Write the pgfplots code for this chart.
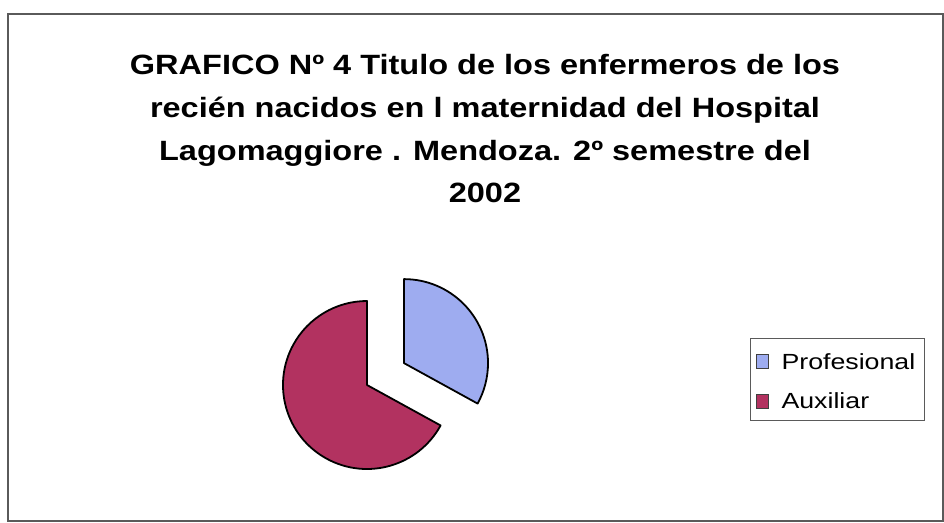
\documentclass[border=0pt]{standalone}
\usepackage{fontspec}
\setmainfont{Liberation Sans}
\newfontfamily\titlefont{Liberation Sans}[FakeStretch=1.165]
\newfontfamily\legfont{Liberation Sans}[FakeStretch=1.22]
\usepackage{pgfplots}
\usepackage{pgfplotstable}
\pgfplotsset{compat=1.18}
\definecolor{prof}{RGB}{158,172,240}
\definecolor{aux}{RGB}{178,50,96}
\definecolor{frm}{RGB}{90,90,90}
\pgfplotstableread{
label value
Profesional 33
Auxiliar 67
}\piedata
\pgfplotstablegetelem{0}{value}\of\piedata \let\vA\pgfplotsretval
\pgfplotstablegetelem{1}{value}\of\piedata \let\vB\pgfplotsretval
\pgfmathsetmacro\angA{90-3.6*\vA}
\pgfmathsetmacro\angB{\angA-3.6*\vB}
\pgfmathsetmacro\midA{90-1.8*\vA}
\pgfmathsetmacro\cxB{367}
\pgfmathsetmacro\cyB{385}
\pgfmathsetmacro\cxA{\cxB+43*cos(\midA)}
\pgfmathsetmacro\cyA{\cyB-43*sin(\midA)}
\begin{document}
\begin{tikzpicture}[x=1bp,y=1bp]
\path[use as bounding box] (0,0) rectangle (944bp,523bp);
\begin{axis}[at={(0,0)},anchor=south west, scale only axis,
  width=944bp, height=523bp, xmin=0, xmax=944, ymin=0, ymax=523,
  y dir=reverse, hide axis, clip=false,
  legend style={at={(axis cs:750,338)}, anchor=north west, draw=frm, line width=1bp,
    font=\fontsize{22}{26}\legfont, inner xsep=5bp, inner ysep=8bp, row sep=13bp,
    column sep=9bp,
    nodes={inner xsep=4bp, inner ysep=2bp, text height=21bp}},
  legend cell align=left,
  legend image code/.code={\draw[#1, draw=black!75, line width=1bp] (0bp,-9bp) rectangle (12bp,5bp);}]
\addlegendimage{fill=prof}
\addlegendentry{Profesional\hspace{6bp}}
\addlegendimage{fill=aux}
\addlegendentry{Auxiliar}
\draw[frm, line width=2bp] (axis cs:8,14) rectangle (axis cs:943,521);
\node[anchor=north, align=center, inner sep=0pt, font=\fontsize{28}{43}\titlefont\bfseries]
  at (axis cs:485,54) {GRAFICO Nº 4 Titulo de los enfermeros de los\\recién nacidos en l maternidad del Hospital\\Lagomaggiore . Mendoza. 2º semestre del\\2002};
\draw[fill=prof, line width=1.8bp, line join=round] (axis cs:\cxA,\cyA) -- ++(90:84bp) arc[start angle=90, end angle=\angA, radius=84bp] -- cycle;
\draw[fill=aux, line width=1.8bp, line join=round] (axis cs:\cxB,\cyB) -- ++(\angA:84bp) arc[start angle=\angA, end angle=\angB, radius=84bp] -- cycle;
\end{axis}
\end{tikzpicture}
\end{document}
